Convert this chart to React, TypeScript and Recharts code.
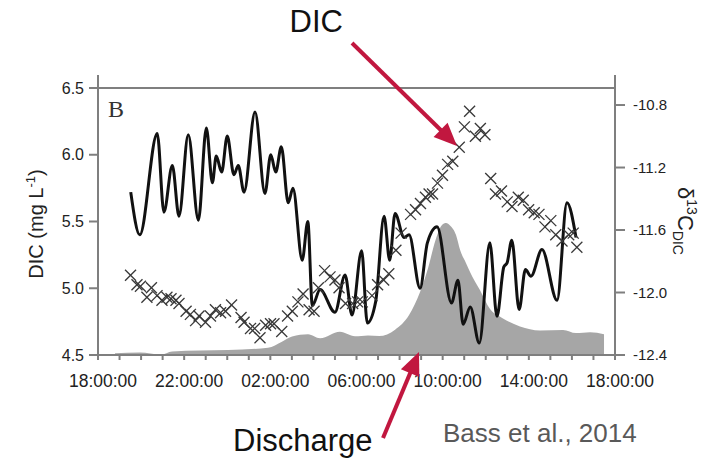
import { ComposedChart, Line, Area, Scatter, XAxis, YAxis, ReferenceLine } from 'recharts';

// hours after 18:00 on day 1
const TICK_HOURS = [0, 1, 2, 3, 4, 5, 6, 7, 8, 9, 10, 11, 12, 13, 14, 15, 16, 17, 18, 19, 20, 21, 22, 23, 24];
const TIME_LABELS = ['18:00:00', '22:00:00', '02:00:00', '06:00:00', '10:00:00', '14:00:00', '18:00:00'];
const DIC_TICKS = [4.5, 5.0, 5.5, 6.0, 6.5];
const D13C_TICKS = [-12.4, -12.0, -11.6, -11.2, -10.8];

// DIC (mg L-1), smoothed record
const dicHours = [
  1.52, 1.94, 2.75, 3.06, 3.45, 3.76, 4.19, 4.66, 5.03, 5.31,
  5.49, 5.74, 6.0, 6.31, 6.51, 6.78, 7.29, 7.75, 8.02, 8.25,
  8.51, 8.83, 9.05, 9.48, 9.74, 9.95, 10.31, 11.0, 11.47, 11.79,
  12.24, 12.5, 12.89, 13.28, 13.54, 13.79, 14.21, 14.44, 14.95, 15.29,
  15.74, 16.41, 16.71, 16.95, 17.28, 17.7, 18.19, 18.52, 18.84, 18.99,
  19.21, 19.55, 19.84, 20.1, 20.61, 21.31, 21.77, 22.19,
];
const dicValues = [
  5.72, 5.4, 6.16, 5.57, 5.92, 5.54, 6.15, 5.51, 6.2, 5.79,
  5.99, 5.87, 6.14, 5.85, 5.92, 5.72, 6.32, 5.71, 6.0, 5.87,
  6.06, 5.64, 5.75, 5.21, 5.5, 4.87, 4.99, 4.82, 5.1, 4.8,
  5.28, 4.74, 4.9, 5.54, 5.21, 5.56, 5.38, 5.4, 5.0, 5.34,
  5.46, 4.89, 5.06, 4.73, 4.86, 4.59, 5.34, 4.79, 5.16, 5.19,
  5.36, 4.84, 5.14, 5.09, 5.29, 4.91, 5.64, 5.38,
];

// d13C-DIC (permil) samples
const d13cHours = [
  1.51, 1.81, 1.97, 2.27, 2.48, 2.74, 2.97, 3.2, 3.39, 3.62,
  3.76, 4.09, 4.29, 4.53, 4.69, 4.99, 5.22, 5.45, 5.69, 5.92,
  6.2, 6.64, 6.78, 7.08, 7.27, 7.52, 7.78, 8.01, 8.17, 8.53,
  8.8, 9.02, 9.28, 9.52, 9.8, 10.03, 10.23, 10.52, 10.77, 11.0,
  11.19, 11.49, 11.82, 12.05, 12.27, 12.72, 12.98, 13.26, 13.5, 13.83,
  14.07, 14.51, 14.74, 14.97, 15.2, 15.37, 15.53, 15.76, 15.99, 16.23,
  16.47, 16.77, 17.01, 17.25, 17.52, 17.75, 17.96, 18.23, 18.45, 18.73,
  19.0, 19.22, 19.51, 19.74, 19.99, 20.25, 20.47, 20.75, 21.02, 21.25,
  21.54, 21.85, 22.06, 22.23,
];
const d13cValues = [
  -11.89, -11.95, -11.96, -12.03, -11.97, -12.02, -12.05, -12.03, -12.04, -12.05,
  -12.07, -12.12, -12.14, -12.18, -12.15, -12.19, -12.15, -12.11, -12.13, -12.12,
  -12.08, -12.16, -12.19, -12.23, -12.23, -12.29, -12.21, -12.2, -12.2, -12.25,
  -12.15, -12.12, -12.06, -12.01, -12.11, -12.12, -11.97, -11.86, -11.9, -11.92,
  -11.97, -12.07, -12.07, -12.06, -12.06, -12.02, -11.95, -11.92, -11.88, -11.73,
  -11.62, -11.5, -11.47, -11.43, -11.39, -11.37, -11.37, -11.3, -11.25, -11.18,
  -11.16, -11.07, -10.94, -10.84, -11.0, -10.95, -10.99, -11.27, -11.37, -11.35,
  -11.42, -11.45, -11.39, -11.41, -11.47, -11.49, -11.5, -11.58, -11.54, -11.63,
  -11.67, -11.63, -11.62, -11.71,
];

// discharge (relative units, no axis shown)
const qHours = [
  0.79, 1.95, 2.92, 3.44, 4.74, 6.04, 7.89, 8.54, 9.01, 9.75,
  10.31, 11.23, 11.93, 12.53, 13.05, 13.79, 14.44, 14.95, 15.32, 15.67,
  15.97, 16.16, 16.34, 16.62, 16.81, 17.08, 17.27, 17.73, 18.2, 18.8,
  19.59, 20.52, 21.59, 22.19, 22.84, 23.49,
];
const qValues = [
  0.07, 0.09, 0.01, 0.13, 0.17, 0.19, 0.27, 0.5, 0.69, 0.78,
  0.63, 0.87, 0.7, 0.73, 0.71, 0.95, 1.5, 2.36, 3.25, 4.31,
  4.87, 4.94, 4.85, 4.49, 3.93, 3.45, 3.11, 2.43, 1.72, 1.37,
  1.07, 0.92, 0.94, 0.82, 0.85, 0.78,
];

const dicData = dicHours.map((h, i) => ({ h, v: dicValues[i] }));
const d13cData = d13cHours.map((h, i) => ({ h, d: d13cValues[i] }));
const qData = qHours.map((h, i) => ({ h, q: qValues[i] }));

const AXIS = '#7f7f7f';
const RED = '#c1173f';
const FONT = '"Liberation Sans", Arial, Helvetica, sans-serif';

function TimeTick(props: any) {
  const { x, y, payload } = props;
  const h = payload.value as number;
  if (h % 4 !== 0) return <g />;
  return (
    <text x={x + 5} y={y + 25} textAnchor="middle" fontSize={17.5} fill="#222" fontFamily={FONT}>
      {TIME_LABELS[h / 4]}
    </text>
  );
}

function XMark(props: any) {
  const { cx, cy } = props;
  if (cx == null || cy == null) return <g />;
  const s = 5.5;
  return (
    <g stroke="#383838" strokeWidth={1.3}>
      <line x1={cx - s} y1={cy - s} x2={cx + s} y2={cy + s} />
      <line x1={cx - s} y1={cy + s} x2={cx + s} y2={cy - s} />
    </g>
  );
}

function Arrow({ x1, y1, x2, y2 }: { x1: number; y1: number; x2: number; y2: number }) {
  const dx = x2 - x1, dy = y2 - y1;
  const len = Math.hypot(dx, dy);
  const ux = dx / len, uy = dy / len;
  const head = 23, hw = 10;
  const bx = x2 - ux * head, by = y2 - uy * head;
  const pts = `${x2},${y2} ${bx - uy * hw},${by + ux * hw} ${bx + uy * hw},${by - ux * hw}`;
  return (
    <g>
      <line x1={x1} y1={y1} x2={bx + ux * 2} y2={by + uy * 2} stroke={RED} strokeWidth={4} />
      <polygon points={pts} fill={RED} />
    </g>
  );
}

export default function App() {
  return (
    <div style={{ position: 'absolute', left: 0, top: 0, width: 711, height: 460, background: '#fff' }}>
      <ComposedChart width={711} height={460} margin={{ top: 88, right: 36, bottom: 65, left: 38 }}>
        <XAxis
          dataKey="h" type="number" domain={[0, 24]} ticks={TICK_HOURS} allowDataOverflow
          stroke={AXIS} strokeWidth={2} tickSize={5} tickMargin={2} height={40}
          tick={TimeTick} interval={0}
        />
        <YAxis
          yAxisId="dic" orientation="left" type="number" domain={[4.5, 6.5]} ticks={DIC_TICKS} allowDataOverflow
          stroke={AXIS} strokeWidth={2} tickSize={9} tickMargin={5} width={60}
          tickFormatter={(v: number) => v.toFixed(1)}
          tick={{ fontSize: 16, fill: '#222', fontFamily: FONT }}
        />
        <YAxis
          yAxisId="d13c" orientation="right" type="number" domain={[-12.4, -10.691]} ticks={D13C_TICKS} allowDataOverflow
          stroke={AXIS} strokeWidth={2} tickSize={10} tickMargin={8} width={60}
          tickFormatter={(v: number) => v.toFixed(1)}
          tick={{ fontSize: 15, fill: '#222', fontFamily: FONT }}
        />
        <YAxis yAxisId="q" hide type="number" domain={[0, 10]} allowDataOverflow />
        <ReferenceLine yAxisId="dic" y={6.5} stroke={AXIS} strokeWidth={2} />
        <Area
          yAxisId="q" data={qData} dataKey="q" type="monotone"
          stroke="none" fill="#a6a6a6" fillOpacity={1} isAnimationActive={false}
        />
        <Scatter yAxisId="d13c" data={d13cData} dataKey="d" shape={XMark} isAnimationActive={false} />
        <Line
          yAxisId="dic" data={dicData} dataKey="v" type="monotone"
          stroke="#111" strokeWidth={3} dot={false} isAnimationActive={false}
        />
      </ComposedChart>

      <svg width={711} height={460} style={{ position: 'absolute', left: 0, top: 0, pointerEvents: 'none' }}>
        <line x1={98} y1={75} x2={98} y2={88} stroke={AXIS} strokeWidth={2} />
        <line x1={615} y1={75} x2={615} y2={88} stroke={AXIS} strokeWidth={2} />
        <text x={108} y={117} fontSize={24} fill="#333" fontFamily='"Liberation Serif", "Times New Roman", serif'>B</text>

        <text x={43} y={224} transform="rotate(-90 43 224)" textAnchor="middle" fontSize={20} fill="#222" fontFamily={FONT}>
          DIC (mg L<tspan dy={-8} fontSize={13}>-1</tspan><tspan dy={8}>)</tspan>
        </text>
        <text x={678} y={221} transform="rotate(90 678 221)" textAnchor="middle" fontSize={22} fill="#222" fontFamily={FONT}>
          δ<tspan dy={-9} fontSize={14}>13</tspan><tspan dy={9}>C</tspan><tspan dy={5} fontSize={14}>DIC</tspan>
        </text>

        <text x={343} y={32} textAnchor="end" fontSize={31} fill="#111" fontFamily={FONT}>DIC</text>
        <Arrow x1={352} y1={43} x2={457} y2={146} />
        <text x={233} y={451} fontSize={31} fill="#111" fontFamily={FONT}>Discharge</text>
        <Arrow x1={383} y1={438} x2={419} y2={352} />
        <text x={443} y={442} fontSize={26} fill="#595959" fontFamily={FONT}>Bass et al., 2014</text>
      </svg>
    </div>
  );
}
